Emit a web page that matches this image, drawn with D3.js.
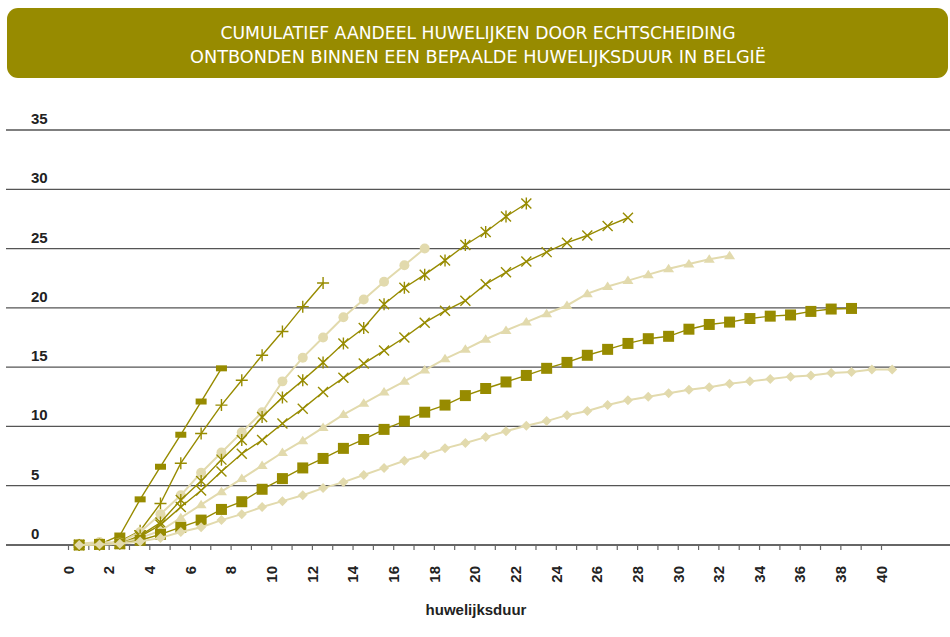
<!DOCTYPE html>
<html>
<head>
<meta charset="utf-8">
<script src="https://cdn.jsdelivr.net/npm/d3@7"></script>
<style>
  html, body { margin: 0; padding: 0; background: #fff; }
  svg { display: block; }
  text { font-family: "Liberation Sans", Arial, sans-serif; }
</style>
</head>
<body>
<svg id="chart"></svg>
<script>
// Chart size
const width = 950;
const height = 637;

// Data - index = huwelijksduur in jaren
const huwelijksduur = [0, 1, 2, 3, 4, 5, 6, 7, 8, 9, 10, 11, 12, 13, 14, 15, 16, 17, 18, 19, 20,
    21, 22, 23, 24, 25, 26, 27, 28, 29, 30, 31, 32, 33, 34, 35, 36, 37, 38, 39, 40];

const reeksStreep = [0, 0.05, 0.8, 3.85, 6.6, 9.3, 12.1, 14.9];
const reeksPlus = [0, 0.05, 0.3, 1.2, 3.5, 6.9, 9.4, 11.8, 13.9, 16.0, 18.0, 20.1, 22.1];
const reeksCirkel = [0.1, 0.25, 0.2, 1.1, 2.6, 4.2, 6.1, 7.8, 9.5, 11.2, 13.8, 15.8, 17.5, 19.2,
    20.7, 22.2, 23.6, 25.0];
const reeksSter = [0, 0.05, 0.1, 0.8, 1.9, 3.8, 5.4, 7.2, 8.85, 10.8, 12.45, 13.9, 15.4, 17.0,
    18.3, 20.3, 21.7, 22.8, 24.0, 25.3, 26.4, 27.7, 28.8];
const reeksKruis = [0, 0.05, 0.1, 0.7, 1.7, 3.2, 4.6, 6.2, 7.7, 8.85, 10.25, 11.5, 12.9, 14.1,
    15.3, 16.4, 17.5, 18.75, 19.75, 20.6, 22.0, 23.0, 23.9, 24.7, 25.5, 26.1, 26.9, 27.6];
const reeksDriehoek = [0, 0.05, 0.1, 0.6, 1.2, 2.3, 3.4, 4.5, 5.6, 6.7, 7.8, 8.8, 9.9, 11.0,
    11.95, 12.9, 13.8, 14.75, 15.7, 16.5, 17.35, 18.1, 18.8, 19.5, 20.2, 21.2, 21.8, 22.3, 22.8,
    23.3, 23.7, 24.1, 24.4];
const reeksVierkant = [0, 0.05, 0.1, 0.4, 0.9, 1.5, 2.1, 3.0, 3.65, 4.7, 5.6, 6.5, 7.3, 8.15,
    8.9, 9.75, 10.45, 11.2, 11.8, 12.6, 13.2, 13.75, 14.3, 14.9, 15.4, 16.0, 16.5, 17.0, 17.4,
    17.6, 18.2, 18.6, 18.8, 19.1, 19.3, 19.4, 19.7, 19.9, 19.95];
const reeksRuit = [0, 0.05, 0.1, 0.3, 0.6, 1.1, 1.5, 2.1, 2.6, 3.2, 3.7, 4.2, 4.8, 5.3, 5.9, 6.5,
    7.1, 7.6, 8.15, 8.6, 9.1, 9.6, 10.05, 10.45, 10.95, 11.3, 11.8, 12.2, 12.5, 12.8, 13.1, 13.3,
    13.6, 13.8, 14.0, 14.2, 14.3, 14.5, 14.6, 14.8, 14.8];

const yTicks = [0, 5, 10, 15, 20, 25, 30, 35];
const xTickLabels = [0, 2, 4, 6, 8, 10, 12, 14, 16, 18, 20, 22, 24, 26, 28, 30, 32, 34, 36, 38, 40];

const titelRegels = [
    "CUMULATIEF AANDEEL HUWELIJKEN DOOR ECHTSCHEIDING",
    "ONTBONDEN BINNEN EEN BEPAALDE HUWELIJKSDUUR IN BELGIË"
];
const xTitel = "huwelijksduur";

// Colours
const donker = "#978b00";
const licht = "#e2daad";

// Series list (drawing order)
const series = [
    { values: reeksStreep, marker: "dash", color: donker },
    { values: reeksPlus, marker: "plus", color: donker },
    { values: reeksCirkel, marker: "circle", color: licht },
    { values: reeksSter, marker: "star", color: donker },
    { values: reeksKruis, marker: "cross", color: donker },
    { values: reeksDriehoek, marker: "triangle", color: licht },
    { values: reeksVierkant, marker: "square", color: donker },
    { values: reeksRuit, marker: "diamond", color: licht }
];

// Scales
const x = d3.scaleLinear().domain([0, 40]).range([68, 881]);
const y = d3.scaleLinear().domain([0, 35]).range([545, 130]);
const pointOffset = 0.55; // points sit between the ticks

const svg = d3.select("#chart")
    .attr("width", width)
    .attr("height", height)
    .attr("viewBox", `0 0 ${width} ${height}`);

// Title box
svg.append("rect")
    .attr("x", 7)
    .attr("y", 8)
    .attr("width", 941)
    .attr("height", 70)
    .attr("rx", 11)
    .style("fill", donker);

const titelBreedte = [515, 576];
svg.selectAll(".titel")
    .data(titelRegels)
    .enter().append("text")
    .attr("class", "titel")
    .attr("x", 478)
    .attr("y", (d, i) => 39 + i * 24)
    .attr("text-anchor", "middle")
    .attr("textLength", (d, i) => titelBreedte[i])
    .attr("lengthAdjust", "spacingAndGlyphs")
    .style("font-family", "'Liberation Sans Narrow', 'DejaVu Sans Condensed', sans-serif")
    .style("font-size", "18px")
    .style("fill", "#fff")
    .text(d => d);

// Horizontal gridlines + y labels
svg.selectAll(".grid")
    .data(yTicks)
    .enter().append("line")
    .attr("class", "grid")
    .attr("x1", 6)
    .attr("x2", width)
    .attr("y1", d => y(d))
    .attr("y2", d => y(d))
    .style("stroke", d => d === 0 ? "#333" : "#555")
    .style("stroke-width", 1.3);

svg.selectAll(".ylabel")
    .data(yTicks)
    .enter().append("text")
    .attr("class", "ylabel")
    .attr("x", 31)
    .attr("y", d => y(d) - 6)
    .style("font-size", "15px")
    .style("font-weight", "bold")
    .style("fill", "#222")
    .text(d => d);

// X axis ticks and labels
const xAxis = d3.axisBottom(x)
    .tickValues(huwelijksduur)
    .tickSize(5)
    .tickFormat(d => xTickLabels.includes(d) ? d : "");

const gx = svg.append("g")
    .attr("transform", `translate(0, ${y(0)})`)
    .call(xAxis);

gx.select(".domain").remove();
gx.selectAll(".tick line").style("stroke", "#666").style("stroke-width", 1.2);
gx.selectAll(".tick text")
    .attr("transform", "rotate(-90)")
    .attr("x", -21)
    .attr("y", 0)
    .attr("dy", "0.35em")
    .attr("text-anchor", "end")
    .style("font-family", "'Liberation Sans', Arial, sans-serif")
    .style("font-size", "15px")
    .style("font-weight", "bold")
    .style("fill", "#222");

svg.append("text")
    .attr("x", 476)
    .attr("y", 615)
    .attr("text-anchor", "middle")
    .style("font-family", "'Liberation Sans Narrow', 'Liberation Sans', sans-serif")
    .style("font-size", "15px")
    .style("font-weight", "bold")
    .style("fill", "#222")
    .text(xTitel);

// Marker shapes
function markerPath(type) {
    switch (type) {
        case "dash": return "M-5.5,-3H5.5V3H-5.5Z";
        case "plus": return "M-6,0H6M0,-6V6";
        case "cross": return "M-5,-5L5,5M-5,5L5,-5";
        case "star": return "M-5,-5L5,5M-5,5L5,-5M0,-6V6";
        case "square": return "M-5.5,-5.5H5.5V5.5H-5.5Z";
        case "triangle": return "M0,-5L5.5,3.5H-5.5Z";
        case "diamond": return "M0,-5L5,0L0,5L-5,0Z";
        default: return d3.symbol(d3.symbolCircle, 78)();
    }
}
const strokeMarkers = ["plus", "cross", "star"];

const line = d3.line()
    .x((d, i) => x(huwelijksduur[i] + pointOffset))
    .y(d => y(d));

series.forEach(s => {
    const g = svg.append("g").attr("class", "serie");

    g.append("path")
        .datum(s.values)
        .attr("d", line)
        .style("fill", "none")
        .style("stroke", s.color)
        .style("stroke-width", s.color === licht ? 2 : 1.4);

    const isStroke = strokeMarkers.includes(s.marker);
    g.selectAll(".marker")
        .data(s.values)
        .enter().append("path")
        .attr("class", "marker")
        .attr("transform", (d, i) => `translate(${x(huwelijksduur[i] + pointOffset)}, ${y(d)})`)
        .attr("d", markerPath(s.marker))
        .style("fill", isStroke ? "none" : s.color)
        .style("stroke", isStroke ? s.color : "none")
        .style("stroke-width", isStroke ? 1.4 : 0);
});
</script>
</body>
</html>
